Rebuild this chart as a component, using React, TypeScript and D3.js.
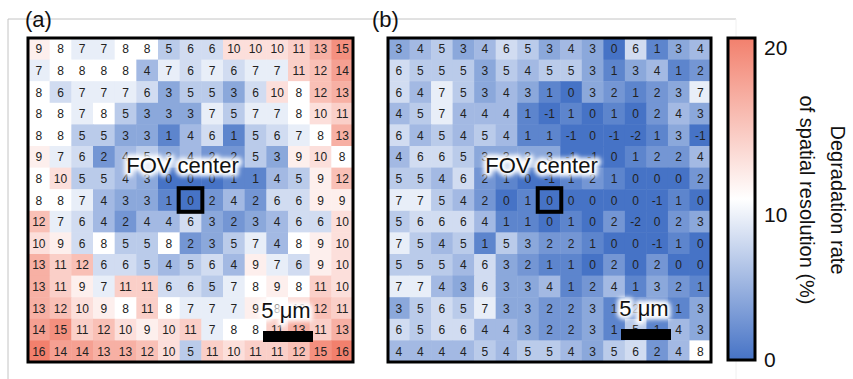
import { useEffect, useRef } from "react";
import * as d3 from "d3";

// panel (a) values, row by row
const rowsA = [
  [9, 8, 7, 7, 8, 8, 5, 6, 6, 10, 10, 10, 11, 13, 15],
  [7, 8, 8, 8, 8, 4, 7, 6, 7, 6, 7, 7, 11, 12, 14],
  [8, 6, 7, 7, 7, 6, 3, 5, 5, 3, 6, 10, 8, 12, 13],
  [8, 8, 7, 8, 5, 3, 3, 3, 7, 5, 7, 7, 8, 10, 11],
  [8, 8, 5, 5, 3, 3, 1, 4, 6, 1, 5, 6, 7, 8, 13],
  [9, 7, 6, 2, 4, 5, 3, 4, 2, 2, 5, 3, 9, 10, 8],
  [8, 10, 5, 5, 4, 3, 0, 0, 0, 1, 1, 4, 5, 9, 12],
  [8, 8, 7, 4, 3, 3, 1, 0, 2, 4, 2, 6, 6, 9, 9],
  [12, 7, 6, 4, 2, 4, 4, 6, 3, 2, 3, 4, 6, 6, 10],
  [10, 9, 6, 8, 5, 5, 8, 2, 3, 5, 7, 4, 8, 9, 10],
  [13, 11, 12, 6, 6, 5, 4, 5, 6, 4, 9, 7, 6, 9, 10],
  [13, 11, 9, 7, 11, 11, 6, 6, 5, 7, 8, 9, 8, 11, 10],
  [13, 12, 10, 9, 8, 11, 8, 7, 7, 7, 9, 8, 10, 12, 11],
  [14, 15, 11, 12, 10, 9, 10, 11, 7, 8, 8, 11, 13, 11, 13],
  [16, 14, 14, 13, 13, 12, 10, 5, 11, 10, 11, 11, 12, 15, 16],
];

// panel (b) values, row by row
const rowsB = [
  [3, 4, 5, 3, 4, 6, 5, 3, 4, 3, 0, 6, 1, 3, 4],
  [6, 5, 5, 5, 3, 5, 4, 5, 5, 3, 1, 3, 4, 1, 2],
  [6, 4, 7, 5, 3, 4, 3, 1, 0, 3, 2, 1, 2, 3, 7],
  [4, 5, 7, 4, 4, 4, 1, -1, 1, 0, 1, 0, 2, 4, 3],
  [6, 4, 5, 4, 5, 4, 1, 1, -1, 0, -1, -2, 1, 3, -1],
  [4, 6, 6, 5, 3, 3, 3, 3, -1, -1, 0, 1, 2, 2, 4],
  [5, 5, 4, 6, 2, 1, 0, -1, 1, 2, 1, 0, 0, 0, 2],
  [7, 7, 5, 4, 2, 0, 1, 0, 0, 0, 0, 0, -1, 1, 0],
  [5, 6, 6, 6, 4, 1, 1, 0, 1, 0, 2, -2, 0, 2, 3],
  [7, 5, 4, 5, 1, 5, 3, 2, 2, 1, 0, 0, -1, 1, 0],
  [5, 5, 5, 4, 6, 3, 2, 1, 1, 0, 2, 0, 2, 0, 0],
  [7, 7, 4, 3, 6, 3, 3, 4, 1, 2, 4, 1, 3, 2, 1],
  [3, 5, 6, 5, 7, 3, 3, 2, 2, 3, 1, 2, 2, 1, 3],
  [6, 5, 6, 6, 4, 4, 3, 2, 2, 3, 1, 5, 1, 4, 3],
  [4, 4, 4, 4, 5, 4, 5, 5, 4, 3, 5, 6, 2, 4, 8],
];

const panelLabels = ["(a)", "(b)"];
const barTicks = [0, 10, 20];
const barTitle = ["Degradation rate", "of spatial resolution (%)"];
const centerLabel = "FOV center";
const scaleLabel = "5 μm";

const BLUE = "#4673C6";
const WHITE = "#FFFFFF";
const RED = "#F2806D";
const FONT = "'Liberation Sans', Arial, sans-serif";

export default function App() {
  const ref = useRef(null);

  useEffect(() => {
    const width = 853;
    const height = 379;
    const svg = d3.select(ref.current);
    svg.selectAll("*").remove();
    svg.attr("viewBox", `0 0 ${width} ${height}`);

    const defs = svg.append("defs");
    const glow = defs.append("filter").attr("id", "glow").attr("x", "-20%").attr("y", "-40%").attr("width", "140%").attr("height", "180%");
    glow.append("feGaussianBlur").attr("stdDeviation", 2);

    const grad = defs
      .append("linearGradient")
      .attr("id", "cbar")
      .attr("x1", 0)
      .attr("y1", 1)
      .attr("x2", 0)
      .attr("y2", 0);
    grad.append("stop").attr("offset", "0%").attr("stop-color", BLUE);
    grad.append("stop").attr("offset", "50%").attr("stop-color", WHITE);
    grad.append("stop").attr("offset", "100%").attr("stop-color", RED);

    // cell colour: clamped at 0, white around 8
    const color = d3
      .scaleLinear<string>()
      .domain([0, 8, 16])
      .range([BLUE, WHITE, RED])
      .clamp(true);

    // light outer frame
    svg.append("line").attr("x1", 8).attr("x2", 736).attr("y1", 19).attr("y2", 19).attr("stroke", "#c4c4c4");
    svg.append("line").attr("x1", 8).attr("x2", 8).attr("y1", 19).attr("y2", height).attr("stroke", "#c4c4c4");
    svg.append("line").attr("x1", 736).attr("x2", 736).attr("y1", 19).attr("y2", height).attr("stroke", "#f0f0f0");

    const panels = [
      { rows: rowsA, x0: 28, x1: 353, label: panelLabels[0], lx: 25 },
      { rows: rowsB, x0: 388, x1: 711, label: panelLabels[1], lx: 372 },
    ];

    const haloText = (g, x, y, txt, size) => {
      g.append("text")
        .attr("x", x)
        .attr("y", y)
        .attr("text-anchor", "middle")
        .attr("font-family", FONT)
        .attr("font-size", size)
        .attr("fill", "white")
        .attr("stroke", "white")
        .attr("stroke-width", 7)
        .attr("stroke-linejoin", "round")
        .attr("filter", "url(#glow)")
        .text(txt);
      g.append("text")
        .attr("x", x)
        .attr("y", y)
        .attr("text-anchor", "middle")
        .attr("font-family", FONT)
        .attr("font-size", size)
        .attr("fill", "#111")
        .text(txt);
    };

    panels.forEach((p) => {
      const n = p.rows.length;
      const x = d3.scaleBand<number>().domain(d3.range(n)).range([p.x0, p.x1]);
      const y = d3.scaleBand<number>().domain(d3.range(n)).range([38, 362]);
      const cells = p.rows.flatMap((r, i) => r.map((v, j) => ({ i, j, v })));

      svg
        .append("text")
        .attr("x", p.lx)
        .attr("y", 27)
        .attr("font-family", FONT)
        .attr("font-size", 22)
        .attr("fill", "#111")
        .text(p.label);

      const g = svg.append("g");
      g.selectAll("rect")
        .data(cells)
        .join("rect")
        .attr("x", (d) => x(d.j))
        .attr("y", (d) => y(d.i))
        .attr("width", x.bandwidth() + 0.5)
        .attr("height", y.bandwidth() + 0.5)
        .attr("fill", (d) => color(d.v));

      g.selectAll("text")
        .data(cells)
        .join("text")
        .attr("x", (d) => x(d.j) + x.bandwidth() / 2)
        .attr("y", (d) => y(d.i) + y.bandwidth() / 2)
        .attr("dy", "0.38em")
        .attr("text-anchor", "middle")
        .attr("font-family", FONT)
        .attr("font-size", 12)
        .attr("fill", "#222")
        .text((d) => d.v);

      // frame
      svg
        .append("rect")
        .attr("x", p.x0)
        .attr("y", 38)
        .attr("width", p.x1 - p.x0)
        .attr("height", 324)
        .attr("fill", "none")
        .attr("stroke", "#000")
        .attr("stroke-width", 3);

      // FOV centre marker
      const c = 7;
      svg
        .append("rect")
        .attr("x", x(c) - 1)
        .attr("y", y(c) - 1)
        .attr("width", x.bandwidth() + 2)
        .attr("height", y.bandwidth() + 2)
        .attr("fill", "none")
        .attr("stroke", "#000")
        .attr("stroke-width", 4);

      const ann = svg.append("g");
      haloText(ann, x(c) + x.bandwidth() / 2 - 8, y(c) - 16, centerLabel, 22);

      // scale bar
      const bx = p.x1 - 40 - 50;
      const by = p === panels[0] ? 331 : 329;
      haloText(ann, bx + 23, by - 13, scaleLabel, 22);
      ann.append("rect").attr("x", bx).attr("y", by).attr("width", 50).attr("height", 11).attr("fill", "#000");
    });

    // colour bar
    const cb = { x: 728, w: 27, y0: 38, y1: 360 };
    svg
      .append("rect")
      .attr("x", cb.x)
      .attr("y", cb.y0)
      .attr("width", cb.w)
      .attr("height", cb.y1 - cb.y0)
      .attr("fill", "url(#cbar)")
      .attr("stroke", "#000")
      .attr("stroke-width", 3);

    // tick labels sit where the original put them (not evenly spaced)
    const tickY = d3.scaleLinear().domain([0, 10, 20]).range([367, 222, 55]);
    svg
      .append("g")
      .selectAll("text")
      .data(barTicks)
      .join("text")
      .attr("x", 764)
      .attr("y", (d) => tickY(d))
      .attr("font-family", FONT)
      .attr("font-size", 21)
      .attr("fill", "#111")
      .text((d) => d);

    svg
      .append("g")
      .selectAll("text")
      .data(barTitle)
      .join("text")
      .attr("transform", (d, i) => `translate(${i === 0 ? 831 : 800},200) rotate(90)`)
      .attr("text-anchor", "middle")
      .attr("font-family", FONT)
      .attr("font-size", 20)
      .attr("fill", "#111")
      .text((d) => d);
  }, []);

  return (
    <div style={{ position: "absolute", left: 0, top: 0, background: "#fff" }}>
      <svg ref={ref} width={853} height={379} style={{ display: "block" }} />
    </div>
  );
}
